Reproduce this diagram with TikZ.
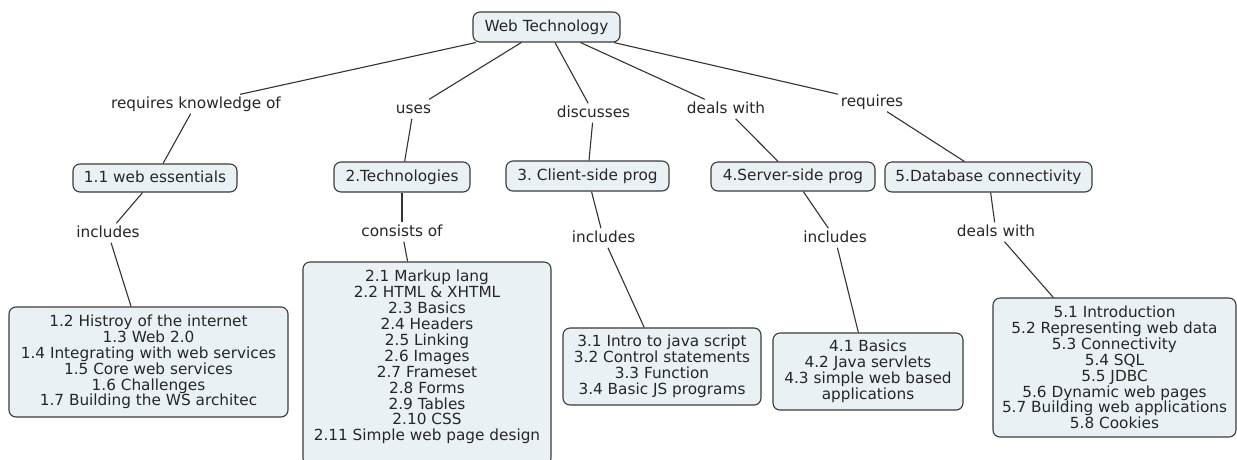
\documentclass[tikz,border=0pt]{standalone}
\usepackage{fontspec}
\setmainfont{DejaVu Sans}
\definecolor{boxfill}{HTML}{EAF1F4}
\definecolor{boxline}{HTML}{3A3A3A}
\definecolor{txt}{HTML}{262626}
\definecolor{lncol}{HTML}{333333}
\frenchspacing
\begin{document}
\begin{tikzpicture}[x=1pt,y=-1pt,
  topbox/.style={draw=boxline, fill=boxfill, line width=1.1pt, rounded corners=7pt,
    text=txt, inner sep=0pt, font=\fontsize{15.3}{18}\selectfont, text height=11pt, text depth=3pt},
  listbox/.style={draw=boxline, fill=boxfill, line width=1.1pt, rounded corners=7pt,
    align=center, text=txt, inner sep=0pt, font=\fontsize{15.3}{15.9}\selectfont},
  lbl/.style={text=txt, inner sep=2.5pt, font=\fontsize{15.3}{18}\selectfont, text height=11pt, text depth=3pt},
  conn/.style={draw=lncol, line width=1.1pt}]
\useasboundingbox (0,0) rectangle (1237,459);
\clip (0,0) rectangle (1237,459);
\fill[white] (0,0) rectangle (1237,459);

% root
\node[topbox, minimum width=147pt, minimum height=30pt] (wt) at (546.5,27) {Web Technology};

% first-level labels
\node[lbl] (l1) at (196,104) {requires knowledge of};
\node[lbl] (l2) at (413.5,109) {uses};
\node[lbl] (l3) at (593.5,113) {discusses};
\node[lbl] (l4) at (726,109) {deals with};
\node[lbl] (l5) at (872,102) {requires};

% chapter boxes
\node[topbox, minimum width=164pt, minimum height=28pt] (b1) at (155,178) {1.1 web essentials};
\node[topbox, minimum width=136pt, minimum height=30pt] (b2) at (402,177) {2.Technologies};
\node[topbox, minimum width=163pt, minimum height=30pt] (b3) at (587.5,176) {3. Client-side prog};
\node[topbox, minimum width=164pt, minimum height=29pt] (b4) at (793,176.5) {4.Server-side prog};
\node[topbox, minimum width=207pt, minimum height=30pt] (b5) at (988.5,177) {5.Database connectivity};

% second-level labels
\node[lbl] (m1) at (108,233) {includes};
\node[lbl] (m2) at (402,232) {consists of};
\node[lbl] (m3) at (603.5,238) {includes};
\node[lbl] (m4) at (835,238) {includes};
\node[lbl] (m5) at (996,232) {deals with};

% detail boxes
\node[listbox, minimum width=279pt, minimum height=110pt] (d1) at (148.5,362) {1.2 Histroy of the internet\\1.3 Web 2.0\\1.4 Integrating with web services\\1.5 Core web services\\1.6 Challenges\\1.7 Building the WS architec};
\node[listbox, minimum width=248pt, minimum height=203pt] (d2) at (427,363.5) {2.1 Markup lang\\2.2 HTML \& XHTML\\2.3 Basics\\2.4 Headers\\2.5 Linking\\2.6 Images\\2.7 Frameset\\2.8 Forms\\2.9 Tables\\2.10 CSS\\2.11 Simple web page design\\~};
\node[listbox, minimum width=198pt, minimum height=77pt] (d3) at (662,366.5) {3.1 Intro to java script\\3.2 Control statements\\3.3 Function\\3.4 Basic JS programs};
\node[listbox, minimum width=190pt, minimum height=77pt] (d4) at (868,371.5) {4.1 Basics\\4.2 Java servlets\\4.3 simple web based\\applications};
\node[listbox, minimum width=243pt, minimum height=139pt] (d5) at (1114.5,367.5) {5.1 Introduction\\5.2 Representing web data\\5.3 Connectivity\\5.4 SQL\\5.5 JDBC\\5.6 Dynamic web pages\\5.7 Building web applications\\5.8 Cookies};

% connectors
\foreach \a/\b in {wt/l1, l1/b1, b1/m1, m1/d1,
                   wt/l2, l2/b2, b2/m2, m2/d2,
                   wt/l3, l3/b3, b3/m3, m3/d3,
                   wt/l4, l4/b4, b4/m4, m4/d4,
                   wt/l5, l5/b5, b5/m5, m5/d5}
  \draw[conn] (\a) -- (\b);
\end{tikzpicture}
\end{document}
